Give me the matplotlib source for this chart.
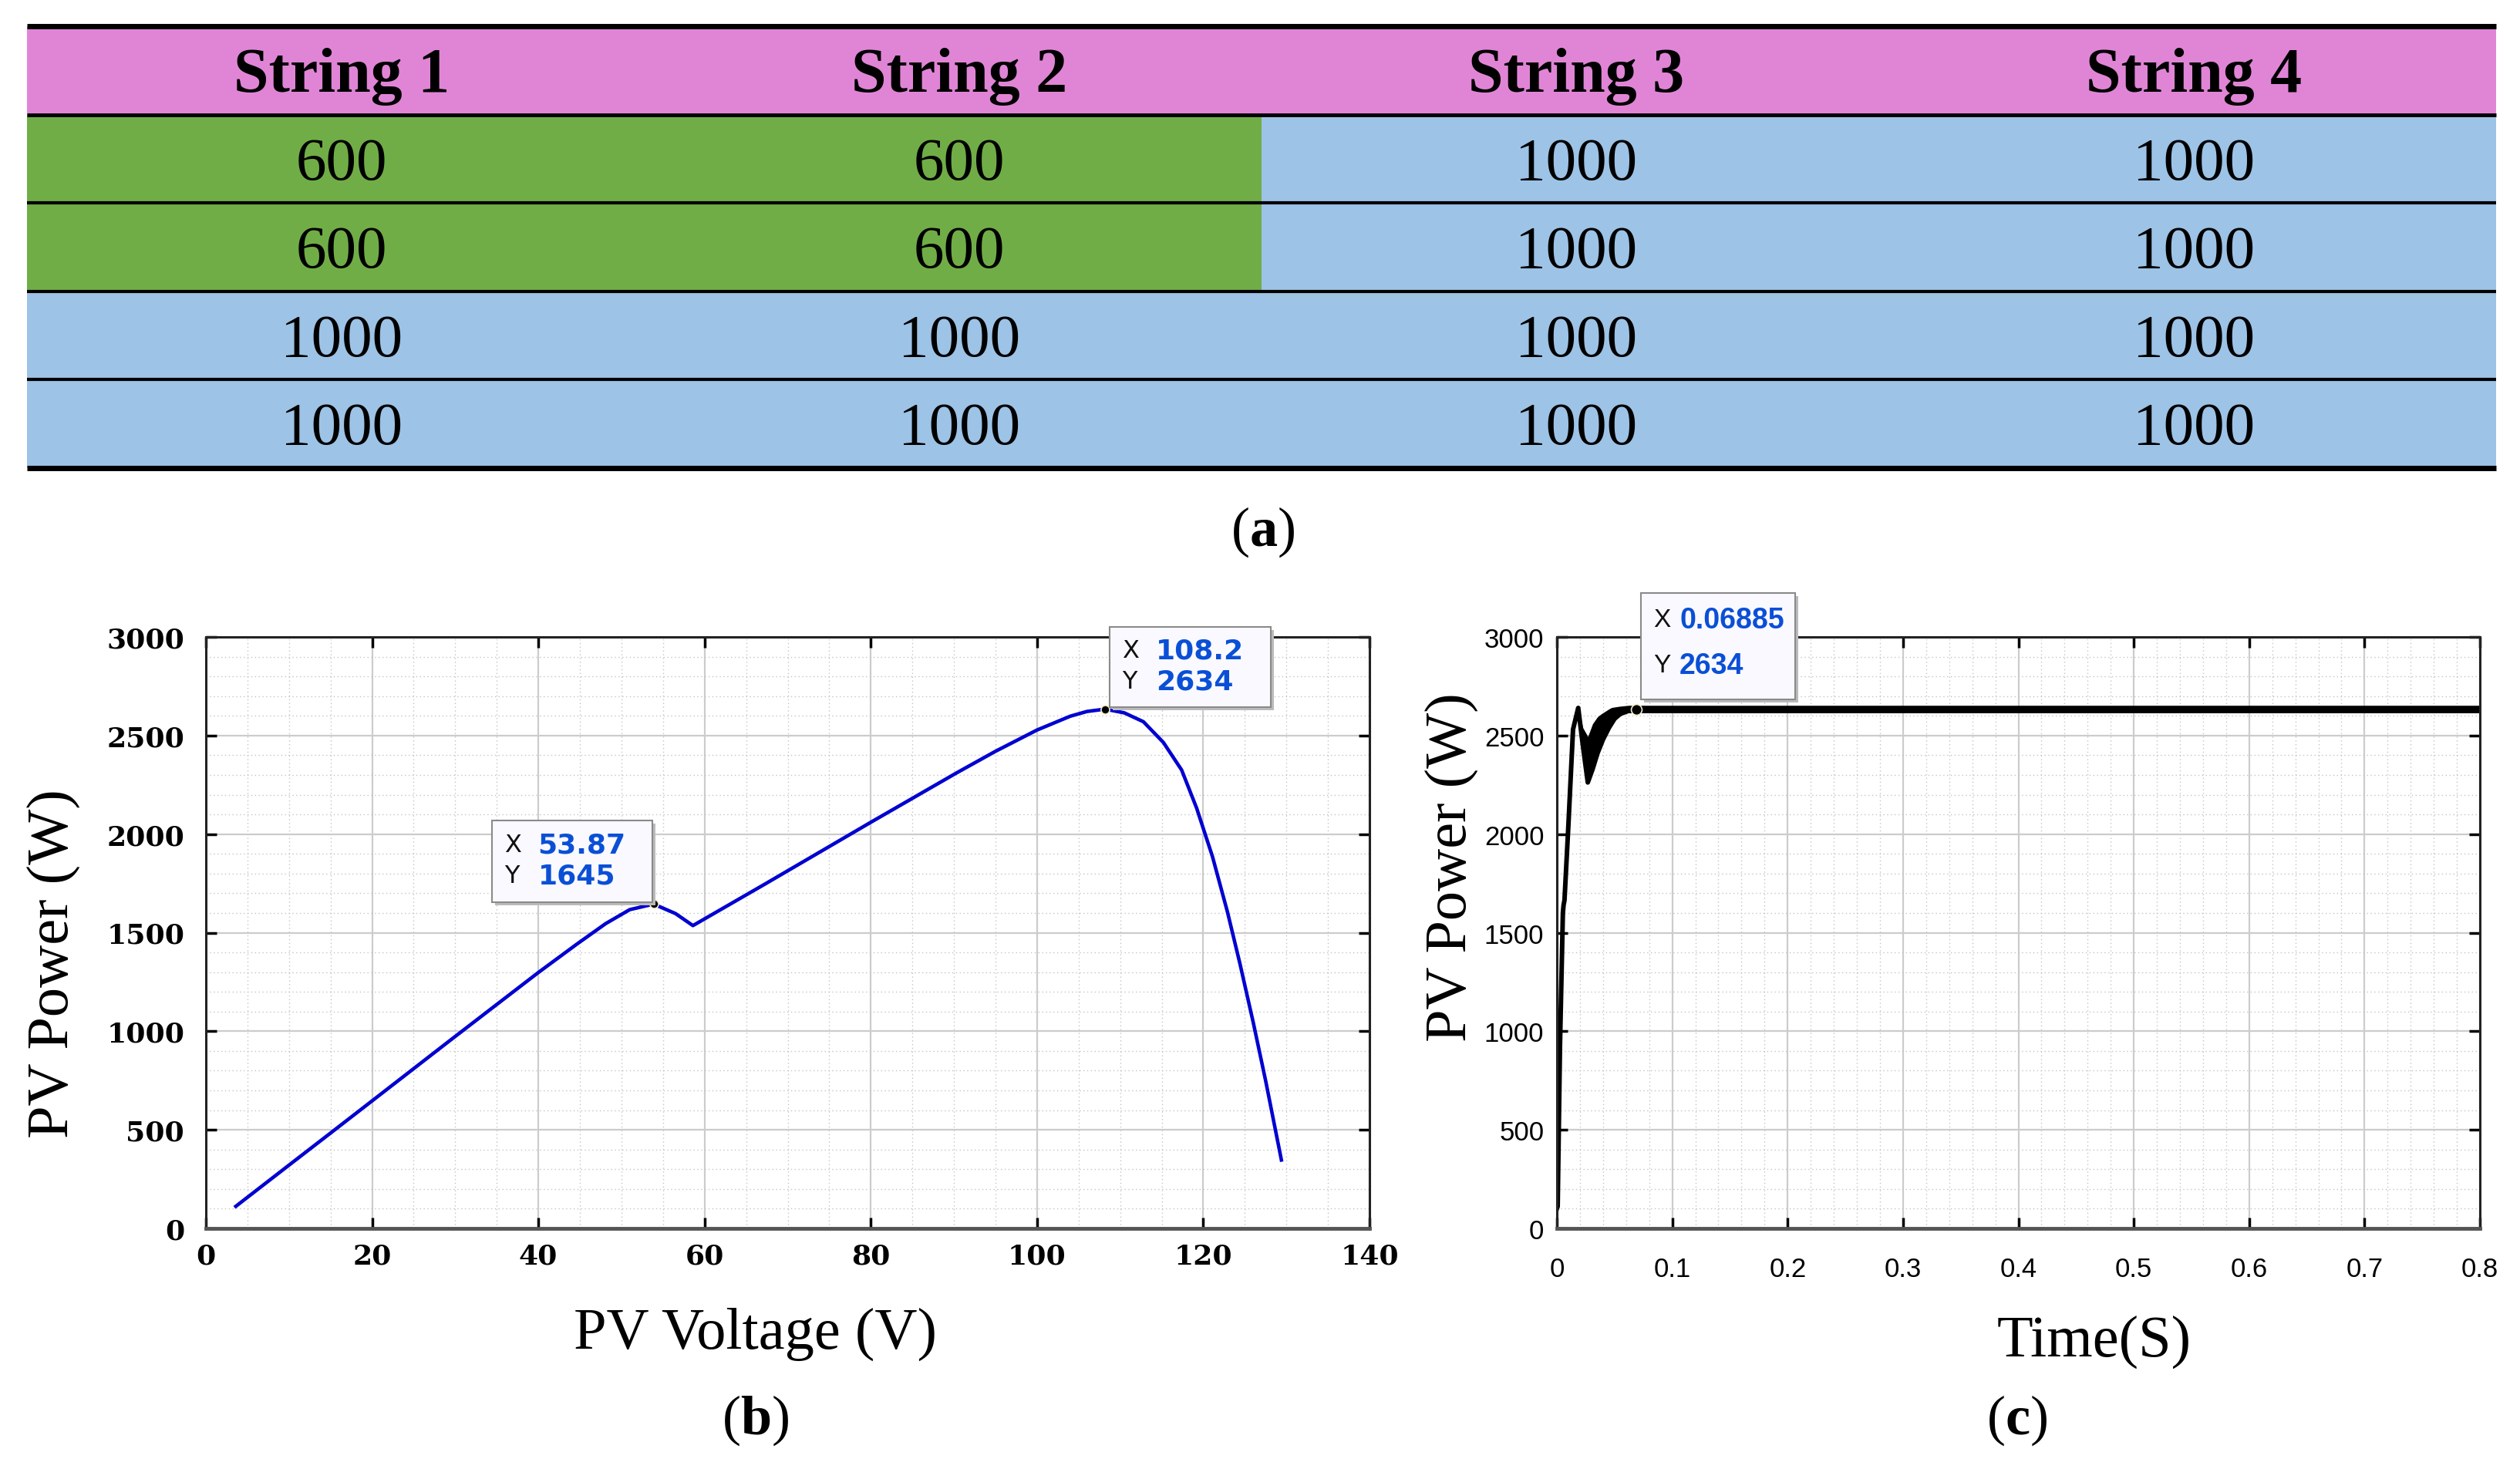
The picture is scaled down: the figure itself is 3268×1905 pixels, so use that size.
import numpy as np
import matplotlib
matplotlib.use('Agg')
import matplotlib.pyplot as plt
import matplotlib.transforms as mtransforms
from matplotlib.patches import Rectangle
from matplotlib.ticker import MultipleLocator

plt.rcParams['mathtext.fontset'] = 'custom'
plt.rcParams['mathtext.rm'] = 'Liberation Serif'
plt.rcParams['mathtext.bf'] = 'Liberation Serif:bold'

# (a) irradiance pattern table
strings = ['String 1', 'String 2', 'String 3', 'String 4']
irradiance = [[600, 600, 1000, 1000],
              [600, 600, 1000, 1000],
              [1000, 1000, 1000, 1000],
              [1000, 1000, 1000, 1000]]

# (b) P-V curve
pv_voltage = [3.6, 10, 15.1, 20, 29.3, 35, 40, 44.6, 48.1, 51.0, 53.87, 56.5, 58.6,
              67.2, 80, 90.3, 95, 100, 104, 106, 108.2, 110.5, 112.8, 115.2, 117.4,
              119.2, 121.1, 122.9, 124.4, 126.0, 127.5, 129.4]
pv_power = [112, 321, 487, 647, 951, 1136, 1298, 1441, 1546, 1617, 1645, 1597, 1536,
            1745, 2060, 2310, 2420, 2528, 2598, 2622, 2634, 2615, 2570, 2465, 2325,
            2132, 1887, 1607, 1345, 1047, 750, 347]
tip_b = [(53.87, 1645), (108.2, 2634)]

# (c) tracked power vs time
time_c = [0.0, 0.0007, 0.0027, 0.0052, 0.0058, 0.0066, 0.0100, 0.0140, 0.0185, 0.0225,
          0.0268, 0.0310, 0.0352, 0.0400, 0.0452, 0.0500, 0.0560, 0.0620, 0.8]
power_c = [100, 112, 929, 1600, 1640, 1665, 2048, 2531, 2640, 2450,
           2262, 2330, 2410, 2480, 2540, 2585, 2615, 2634, 2634]
band_t = [0.0185, 0.0225, 0.0268, 0.0310, 0.0352, 0.0385, 0.0452, 0.0474, 0.0540, 0.0620, 0.8]
band_hi = [2640, 2540, 2495, 2560, 2595, 2610, 2635, 2642, 2648, 2653, 2653]
band_lo = [2640, 2450, 2262, 2330, 2410, 2450, 2540, 2560, 2598, 2615, 2615]
tip_c = (0.06885, 2634)

W, H = 3268, 1906
fig = plt.figure(figsize=(W / 100, H / 100), dpi=100)
px = mtransforms.IdentityTransform()

header_col = '#E085D6'
cell_col = {600: '#70AD47', 1000: '#9DC3E6'}

ax_t = fig.add_axes([35 / W, 1 - 608 / H, 3202 / W, 573 / H])
ax_t.set_xlim(0, 4)
ax_t.set_ylim(5, 0)
ax_t.axis('off')
for j, s in enumerate(strings):
    ax_t.add_patch(Rectangle((j, 0), 1, 1, facecolor=header_col, edgecolor='none'))
    ax_t.text(j + 0.51, 0.56, s, ha='center', va='center', fontsize=59,
              fontweight='bold', family='Liberation Serif')
for i, row in enumerate(irradiance):
    for j, val in enumerate(row):
        ax_t.add_patch(Rectangle((j, i + 1), 1, 1, facecolor=cell_col[val], edgecolor='none'))
        ax_t.text(j + 0.51, i + 1.56, str(val), ha='center', va='center',
                  fontsize=57, family='Liberation Serif')
line_w = [5, 3.5, 3, 3, 3, 5]
for k in range(6):
    ax_t.plot([0, 4], [k, k], color='black', lw=line_w[k], clip_on=False, solid_capstyle='butt')

fig.text(1638 / W, 1 - 690 / H, '(' + r'$\mathbf{a}$' + ')', ha='center', va='center',
         fontsize=52, family='Liberation Serif')


def style_axes(ax, family, size, weight, pad):
    ax.grid(which='major', color='#cccccc', lw=1.6, ls='-')
    ax.grid(which='minor', color='#c4c4c4', lw=1.0, ls=(0, (1, 2.5)))
    ax.set_axisbelow(True)
    ax.tick_params(which='major', direction='in', length=10, width=2.5,
                   top=True, right=True, pad=pad)
    ax.tick_params(which='minor', length=0)
    for sp in ax.spines.values():
        sp.set_linewidth(2.2)
        sp.set_color('#222222')
    ax.spines['bottom'].set_linewidth(3.5)
    ax.spines['bottom'].set_color('#555555')
    for lbl in ax.get_xticklabels() + ax.get_yticklabels():
        lbl.set_family(family)
        lbl.set_fontsize(size)
        lbl.set_fontweight(weight)


def datatip(ax, x, y, size, side, lift, lead, lines_y, fs, fam, ms):
    w, h = size
    dx, dy = ax.transData.transform((x, y))
    x0 = dx - w - 2 if side == 'left' else dx + 6
    y0 = dy + lift
    fig.add_artist(Rectangle((x0 + 4, y0 - 4), w, h, transform=px, facecolor='#bbbbbb',
                             edgecolor='none', zorder=5))
    fig.add_artist(Rectangle((x0, y0), w, h, transform=px, facecolor='#f9f9ff',
                             edgecolor='#8a8a8a', lw=1.5, zorder=6))
    for k, (letter, val) in enumerate([('X', x), ('Y', y)]):
        ty = y0 + h - lines_y[k]
        fig.text(x0 + lead[0], ty, letter, transform=px, ha='left', va='center',
                 fontsize=fs - 3, family=fam, color='#111111', zorder=7)
        fig.text(x0 + lead[1], ty, f'{val:g}', transform=px, ha='left', va='center',
                 fontsize=fs, family=fam, fontweight='bold', color='#0a4fd6', zorder=7)
    ax.plot([x], [y], 'o', color='black', ms=ms, mec='#f2eecb', mew=1.2, zorder=8, clip_on=False)


# (b)
ax_b = fig.add_axes([267 / W, 1 - 1594 / H, 1509 / W, 767 / H])
ax_b.plot(pv_voltage, pv_power, color='#0000d0', lw=3.3, solid_joinstyle='round')
ax_b.set_xlim(0, 140)
ax_b.set_ylim(0, 3000)
ax_b.set_xticks(np.arange(0, 141, 20))
ax_b.set_yticks(np.arange(0, 3001, 500))
ax_b.xaxis.set_minor_locator(MultipleLocator(5))
ax_b.yaxis.set_minor_locator(MultipleLocator(100))
style_axes(ax_b, 'DejaVu Serif', 26, 'bold', 13)
ax_b.tick_params(axis='y', pad=20)

fig.text(69 / W, 1 - 1250 / H, 'PV Power (W)', rotation=90, ha='center', va='center',
         fontsize=55, family='Liberation Serif')
fig.text(979 / W, 1 - 1730 / H, 'PV Voltage (V)', ha='center', va='center',
         fontsize=55, family='Liberation Serif')
fig.text(980 / W, 1 - 1842 / H, '(' + r'$\mathbf{b}$' + ')', ha='center', va='center',
         fontsize=52, family='Liberation Serif')

# (c)
ax_c = fig.add_axes([2019 / W, 1 - 1594 / H, 1197 / W, 767 / H])
ax_c.fill_between(band_t, band_lo, band_hi, color='black', lw=0)
ax_c.plot(time_c, power_c, color='black', lw=4.3, solid_joinstyle='round')
ax_c.set_xlim(0, 0.8)
ax_c.set_ylim(0, 3000)
ax_c.set_xticks(np.arange(0, 0.81, 0.1))
ax_c.set_xticklabels(['0', '0.1', '0.2', '0.3', '0.4', '0.5', '0.6', '0.7', '0.8'])
ax_c.set_yticks(np.arange(0, 3001, 500))
ax_c.xaxis.set_minor_locator(MultipleLocator(0.02))
ax_c.yaxis.set_minor_locator(MultipleLocator(100))
style_axes(ax_c, 'Liberation Sans', 25, 'normal', 26)
ax_c.tick_params(axis='y', pad=12)

fig.text(1882 / W, 1 - 1125 / H, 'PV Power (W)', rotation=90, ha='center', va='center',
         fontsize=55, family='Liberation Serif')
fig.text(2716 / W, 1 - 1740 / H, 'Time(S)', ha='center', va='center',
         fontsize=55, family='Liberation Serif')
fig.text(2616 / W, 1 - 1842 / H, '(' + r'$\mathbf{c}$' + ')', ha='center', va='center',
         fontsize=52, family='Liberation Serif')

datatip(ax_b, tip_b[0][0], tip_b[0][1], (208, 106), 'left', 2, (16, 60), (31, 71), 26,
        'DejaVu Sans', 8)
datatip(ax_b, tip_b[1][0], tip_b[1][1], (209, 104), 'right', 3, (16, 60), (31, 71), 26,
        'DejaVu Sans', 8)
datatip(ax_c, tip_c[0], tip_c[1], (200, 138), 'right', 13, (16, 50), (35, 94), 27,
        'Liberation Sans', 10)

fig.savefig('out.png', dpi=100)
